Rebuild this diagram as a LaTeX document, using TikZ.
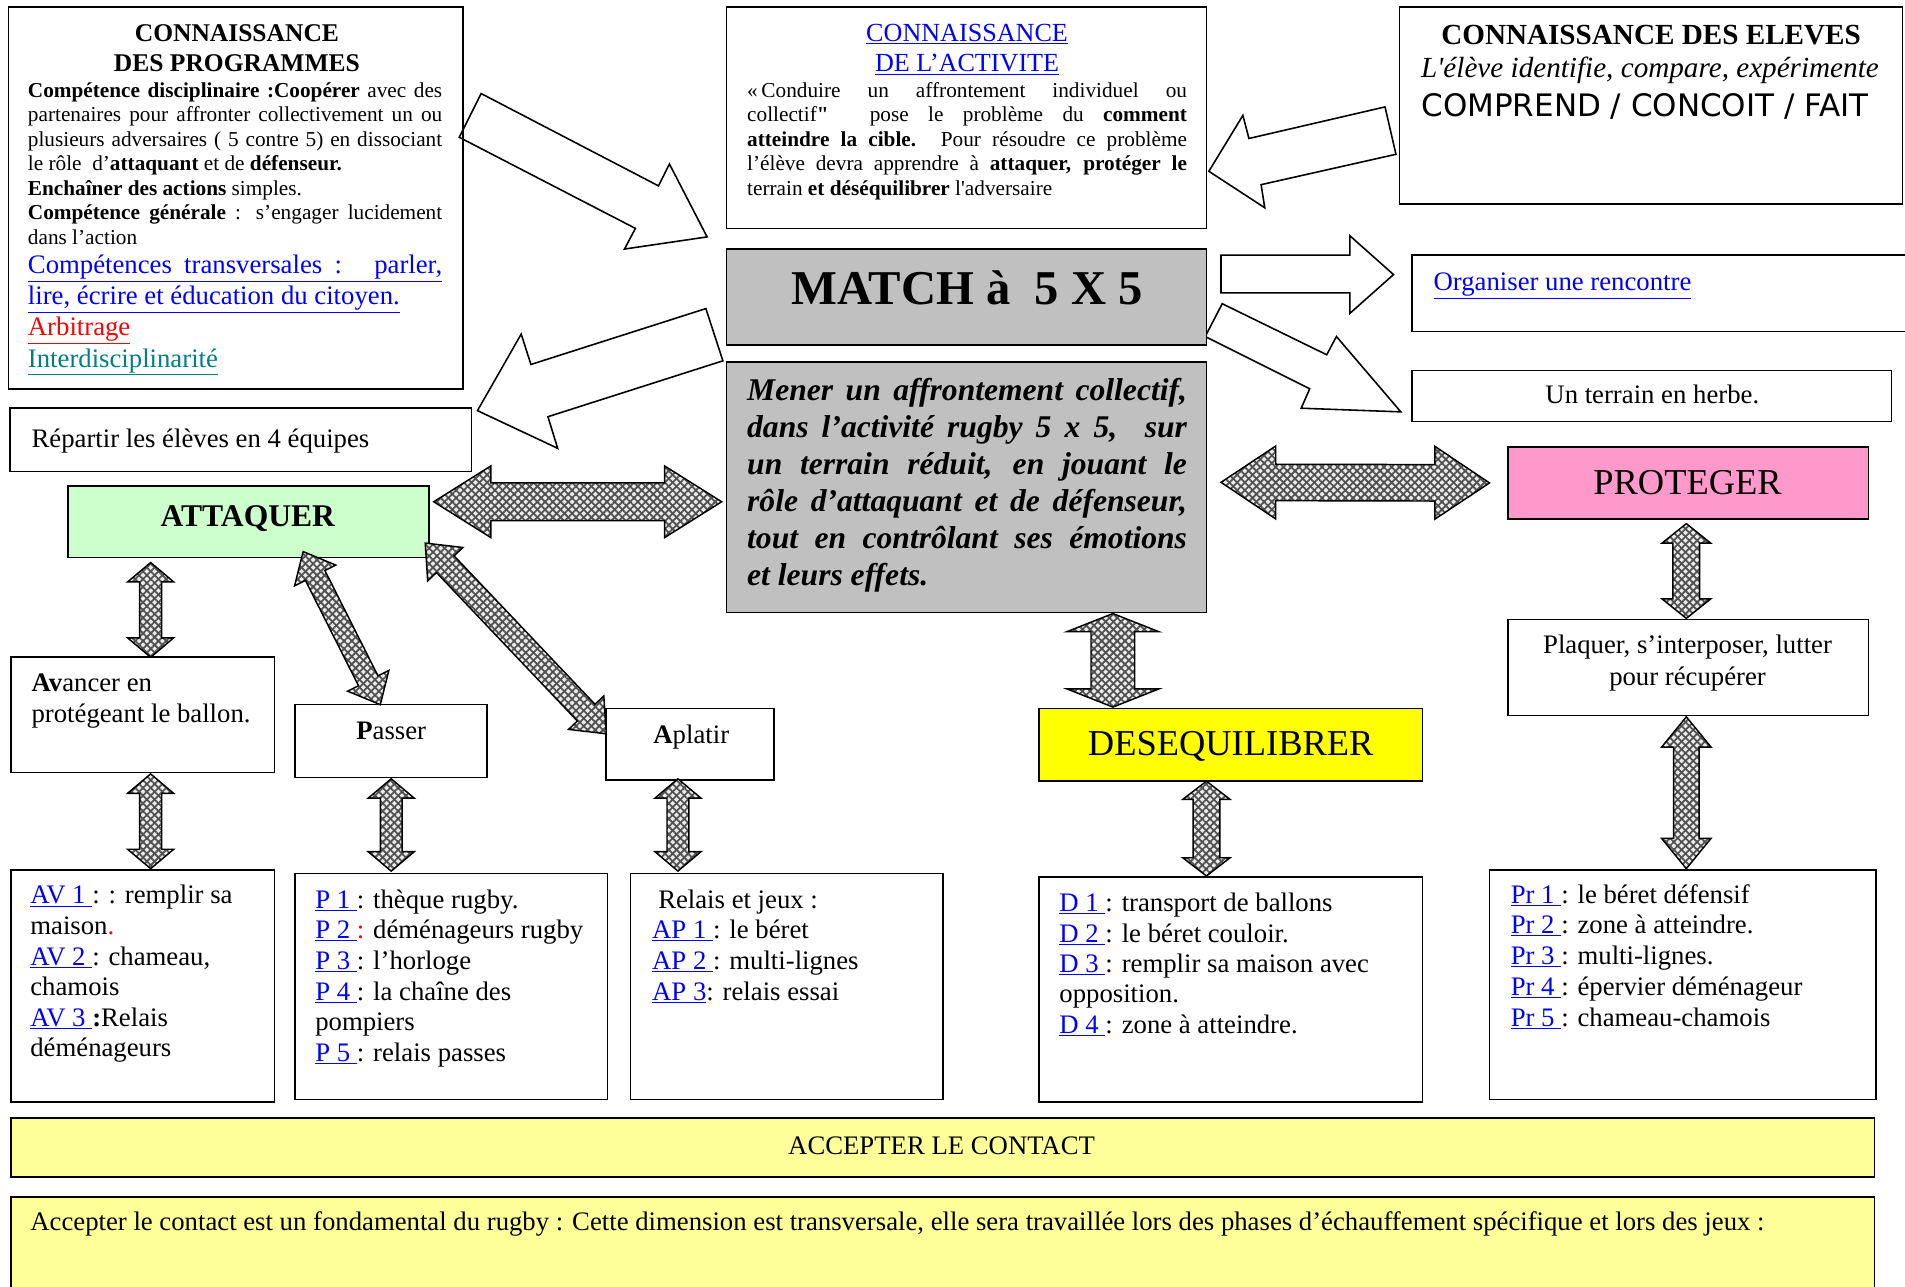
\documentclass[tikz,border=0pt]{standalone}
\usepackage{fontspec}
\setmainfont{Liberation Serif}
\newfontfamily\rawserif{Liberation Serif}[Ligatures=TeXOff]
\newfontfamily\comicf{DejaVu Sans}
\usetikzlibrary{calc,patterns.meta}
\definecolor{lkblue}{RGB}{0,0,255}
\definecolor{teal2}{RGB}{0,128,128}
\definecolor{boxgray}{RGB}{192,192,192}
\definecolor{attgreen}{RGB}{204,255,204}
\definecolor{propink}{RGB}{255,153,204}
\definecolor{desyel}{RGB}{255,255,0}
\definecolor{accyel}{RGB}{255,255,153}
\newcommand{\fs}[2]{\fontsize{#1}{#2}\selectfont}
\newcommand{\J}[1]{\makebox[\linewidth][s]{#1}}
\newcommand{\lk}[1]{{\color{lkblue}\underline{#1}}}
\newcommand{\bnode}[6]{\node[bx,minimum width={(#4-#2)*1pt},minimum height={(#5-#3)*1pt},#6] (#1) at (#2,#3) {};}
\newcommand{\dbl}[5]{%
  \coordinate (dA) at #1; \coordinate (dB) at #2;
  \coordinate (dP) at ($(dA)!#5pt!(dB)$);
  \coordinate (dQ) at ($(dB)!#5pt!(dA)$);
  \draw[dblst] (dA) -- ($(dP)!#4pt!90:(dB)$) -- ($(dP)!#3pt!90:(dB)$)
    -- ($(dQ)!#3pt!-90:(dA)$) -- ($(dQ)!#4pt!-90:(dA)$) -- (dB)
    -- ($(dQ)!#4pt!90:(dA)$) -- ($(dQ)!#3pt!90:(dA)$)
    -- ($(dP)!#3pt!-90:(dB)$) -- ($(dP)!#4pt!-90:(dB)$) -- cycle;}
\begin{document}
\begin{tikzpicture}[x=1pt,y=-1pt,
  bx/.style={draw=black, line width=1.3pt, anchor=north west, inner sep=0pt, outer sep=0pt},
  wa/.style={draw=black, line width=1.3pt, fill=white, line join=miter},
  dblst/.style={draw=black, line width=1.2pt, line join=miter,
     preaction={fill=gray!15},
     preaction={pattern={Lines[angle=45,distance=4.5pt,line width=1.5pt]}, pattern color=black!68},
     preaction={pattern={Lines[angle=-45,distance=4.5pt,line width=1.5pt]}, pattern color=black!68}},
  tx/.style={anchor=base west, inner sep=0pt, outer sep=0pt},
  tc/.style={anchor=base, inner sep=0pt, outer sep=0pt}]
\fill[white] (0,0) rectangle (1568,1059);
\useasboundingbox (0,0) rectangle (1568,1059);

% white block arrows
\draw[wa] (396,77) -- (542,153) -- (551,135) -- (582,195) -- (514,205) -- (523,188) -- (378,113) -- cycle;
\draw[wa] (581,254) -- (437,300) -- (429,275) -- (393,338) -- (459,369) -- (451,343) -- (595,297) -- cycle;
\draw[wa] (1140,88) -- (1028,114) -- (1023,95) -- (995,141) -- (1041,171) -- (1038,152) -- (1149,127) -- cycle;
\draw[wa] (1005,210) -- (1111,210) -- (1111,194) -- (1147,226) -- (1111,258) -- (1111,241) -- (1005,241) -- cycle;
\draw[wa] (1006,250) -- (1092,292) -- (1100,277) -- (1153,339) -- (1071,336) -- (1078,320) -- (992,277) -- cycle;

% boxes
\bnode{prog}{7}{6}{381}{320}{}
\bnode{act}{598}{6}{993}{188}{}
\bnode{elv}{1152}{6}{1566}{168}{}
\bnode{match}{598}{205}{993}{284}{fill=boxgray}
\bnode{gray}{598}{298}{993}{504}{fill=boxgray}
\bnode{org}{1162}{210}{1580}{273}{}
\bnode{ter}{1162}{305}{1557}{347}{}
\bnode{rep}{8}{336}{388}{388}{}
\bnode{att}{56}{400}{353}{459}{fill=attgreen}
\bnode{pro}{1241}{368}{1538}{427}{fill=propink}
\bnode{avc}{9}{541}{226}{636}{}
\bnode{pas}{243}{580}{401}{640}{}
\bnode{apl}{499}{583}{637}{642}{}
\bnode{des}{855}{583}{1171}{643}{fill=desyel}
\bnode{plq}{1241}{510}{1538}{589}{}
\bnode{avl}{9}{716}{226}{907}{}
\bnode{pl}{243}{719}{500}{905}{}
\bnode{apL}{519}{719}{776}{905}{}
\bnode{dl}{855}{722}{1171}{907}{}
\bnode{prl}{1226}{716}{1544}{905}{}
\bnode{acc}{9}{920}{1543}{969}{fill=accyel}
\bnode{bot}{9}{985}{1543}{1075}{fill=accyel}

% texts
\node[tc] (progT) at (195,34) {\parbox[t]{360pt}{\centering\fs{21}{25}\bfseries\leavevmode CONNAISSANCE\\DES PROGRAMMES}};
\node[tx] (progB) at (23,80) {\parbox[t]{341pt}{\fs{17.5}{20.2}\leavevmode
\J{\textbf{Compétence disciplinaire :Coopérer} avec des}\\
\J{partenaires pour affronter collectivement un ou}\\
\J{plusieurs adversaires ( 5 contre 5) en dissociant}\\
le rôle \ d’\textbf{attaquant} et de \textbf{défenseur.}\\
\textbf{Enchaîner des actions} simples.\\
\J{\textbf{Compétence générale} : s’engager lucidement}\\
dans l’action}};
\node[tx] (progC) at (23,225) {\parbox[t]{341pt}{\fs{22}{25.7}\leavevmode
{\color{lkblue}\underline{\J{Compétences transversales : \ parler,}}}\\
{\color{lkblue}\underline{lire, écrire et éducation du citoyen.}}\\
{\color{red}\underline{Arbitrage}}\\
{\color{teal2}\underline{Interdisciplinarité}}}};

\node[tc] (actT) at (796,34) {\parbox[t]{380pt}{\centering\fs{21.5}{25}\leavevmode{\color{lkblue}\underline{CONNAISSANCE}}\\{\color{lkblue}\underline{DE L’ACTIVITE}}}};
\node[tx] (actB) at (615,80) {\parbox[t]{362pt}{\fs{17.5}{20.2}\leavevmode
\J{«\kern3pt Conduire un affrontement individuel ou}\\
\J{collectif{\rawserif\bfseries "}\hspace{18pt} pose le problème du \textbf{comment}}\\
\J{\textbf{atteindre la cible.} Pour résoudre ce problème}\\
\J{l’élève devra apprendre à \textbf{attaquer, protéger le}}\\
terrain \textbf{et déséquilibrer} l{\rawserif '}adversaire}};

\node[tc] (elvT) at (1359,37) {\fs{24}{28}\bfseries CONNAISSANCE DES ELEVES};
\node[tc] (elvI) at (1358,64) {\fs{24}{28}\itshape L{\rawserif\itshape '}élève identifie, compare, expérimente};
\node[tx] (elvC) at (1170,96) {\fs{25.5}{29}\comicf COMPREND / CONCOIT / FAIT};

\node[tc] (matchT) at (796,251) {\fs{40}{46}\bfseries MATCH à \ 5 X 5};
\node[tx] (grayT) at (615,330) {\parbox[t]{362pt}{\fs{26}{30.4}\bfseries\itshape\leavevmode
\J{Mener un affrontement collectif,}\\
\J{dans l’activité rugby 5 x 5, \ sur}\\
\J{un terrain réduit, en jouant le}\\
\J{rôle d’attaquant et de défenseur,}\\
\J{tout en contrôlant ses émotions}\\
et leurs effets.}};

\node[tx] (orgT) at (1180,239) {\fs{22}{25}\leavevmode{\color{lkblue}\underline{Organiser une rencontre}}};
\node[tc] (terT) at (1360,332.5) {\fs{22}{25}Un terrain en herbe.};
\node[tx] (repT) at (26,368) {\fs{22}{25}Répartir les élèves en 4 équipes};
\node[tc] (attT) at (204,433.5) {\fs{26}{30}\bfseries ATTAQUER};
\node[tc] (proT) at (1389,407) {\fs{30}{34}PROTEGER};
\node[tc] (desT) at (1013,622) {\fs{30}{34}DESEQUILIBRER};
\node[tx] (avcT) at (26,569.5) {\parbox[t]{200pt}{\fs{22}{25}\leavevmode\textbf{Av}ancer en\\protégeant le ballon.}};
\node[tc] (pasT) at (322,609) {\fs{22}{25}\textbf{P}asser};
\node[tc] (aplT) at (569,612) {\fs{22}{25}\textbf{A}platir};
\node[tc] (plqT) at (1389,537.6) {\parbox[t]{290pt}{\centering\fs{22}{26.4}\leavevmode Plaquer, s’interposer, lutter\\pour récupérer}};

\node[tx] (avlT) at (25,744) {\parbox[t]{200pt}{\fs{22}{25.2}\leavevmode
\lk{AV 1\ }: : remplir sa\\
maison{\color{red}.}\\
\lk{AV 2\ }: chameau,\\
chamois\\
\lk{AV 3\ }\textbf{:}Relais\\
déménageurs}};
\node[tx] (plT) at (259.5,747.6) {\parbox[t]{235pt}{\fs{22}{25.2}\leavevmode
\lk{P 1\ }: thèque rugby.\\
\lk{P 2\ }{\color{red}:} déménageurs rugby\\
\lk{P 3\ }: l’horloge\\
\lk{P 4\ }: la chaîne des\\
pompiers\\
\lk{P 5\ }: relais passes}};
\node[tx] (apT) at (536.8,747.6) {\parbox[t]{235pt}{\fs{22}{25.2}\leavevmode
\hspace*{5pt}Relais et jeux :\\
\lk{AP 1\ }: le béret\\
\lk{AP 2\ }: multi-lignes\\
\lk{AP 3}: relais essai}};
\node[tx] (dT) at (872,750.4) {\parbox[t]{295pt}{\fs{22}{25}\leavevmode
\lk{D 1\ }: transport de ballons\\
\lk{D 2\ }: le béret couloir.\\
\lk{D 3\ }: remplir sa maison avec\\
opposition.\\
\lk{D 4\ }: zone à atteindre.}};
\node[tx] (prT) at (1243.5,743.5) {\parbox[t]{295pt}{\fs{22}{25.25}\leavevmode
\lk{Pr 1\ }: le béret défensif\\
\lk{Pr 2\ }: zone à atteindre.\\
\lk{Pr 3\ }: multi-lignes.\\
\lk{Pr 4\ }: épervier déménageur\\
\lk{Pr 5\ }: chameau-chamois}};
\node[tc] (accT) at (775,950) {\fs{22}{25}ACCEPTER LE CONTACT};
\node[tx] (botT) at (25,1013) {\fs{22}{25}Accepter le contact est un fondamental du rugby : Cette dimension est transversale, elle sera travaillée lors des phases d’échauffement spécifique et lors des jeux :};

% patterned double arrows
\dbl{($(att.north east)+(4,13)$)}{($(gray.west)+(-4,12)$)}{15.5}{29.5}{47}
\dbl{($(gray.east)+(12,-4)$)}{($(pro.west)+(-15,0)$)}{15}{30}{45}
\dbl{($(att.south west)+(68,4)$)}{($(avc.north west)+(115,0)$)}{9}{19}{16}
\dbl{($(att.south)+(45,-5)$)}{($(pas.north)+(-9,0)$)}{9}{19}{22}
\dbl{($(att.south east)+(-3,-12)$)}{($(apl.west)+(0,-8.5)$)}{10}{20}{24}
\dbl{($(avc.south west)+(115,1)$)}{($(avl.north west)+(115,-1)$)}{9}{19}{16}
\dbl{($(pas.south)+(0,1)$)}{($(pl.north west)+(79,-2)$)}{9}{19}{16}
\dbl{($(apl.south west)+(59,-1)$)}{($(apL.north west)+(39,-2)$)}{9}{19}{16}
\dbl{($(gray.south)+(120.5,1)$)}{($(des.north west)+(61,-1)$)}{18}{38}{15}
\dbl{($(des.south west)+(138,0)$)}{($(dl.north west)+(138,-1)$)}{11}{19.5}{15}
\dbl{($(pro.south)+(-1.5,4)$)}{($(plq.north)+(-1.5,-1)$)}{11}{20}{16}
\dbl{($(plq.south)+(-1.5,1)$)}{($(prl.north west)+(162,-1)$)}{10.5}{20.4}{25}
\end{tikzpicture}
\end{document}
